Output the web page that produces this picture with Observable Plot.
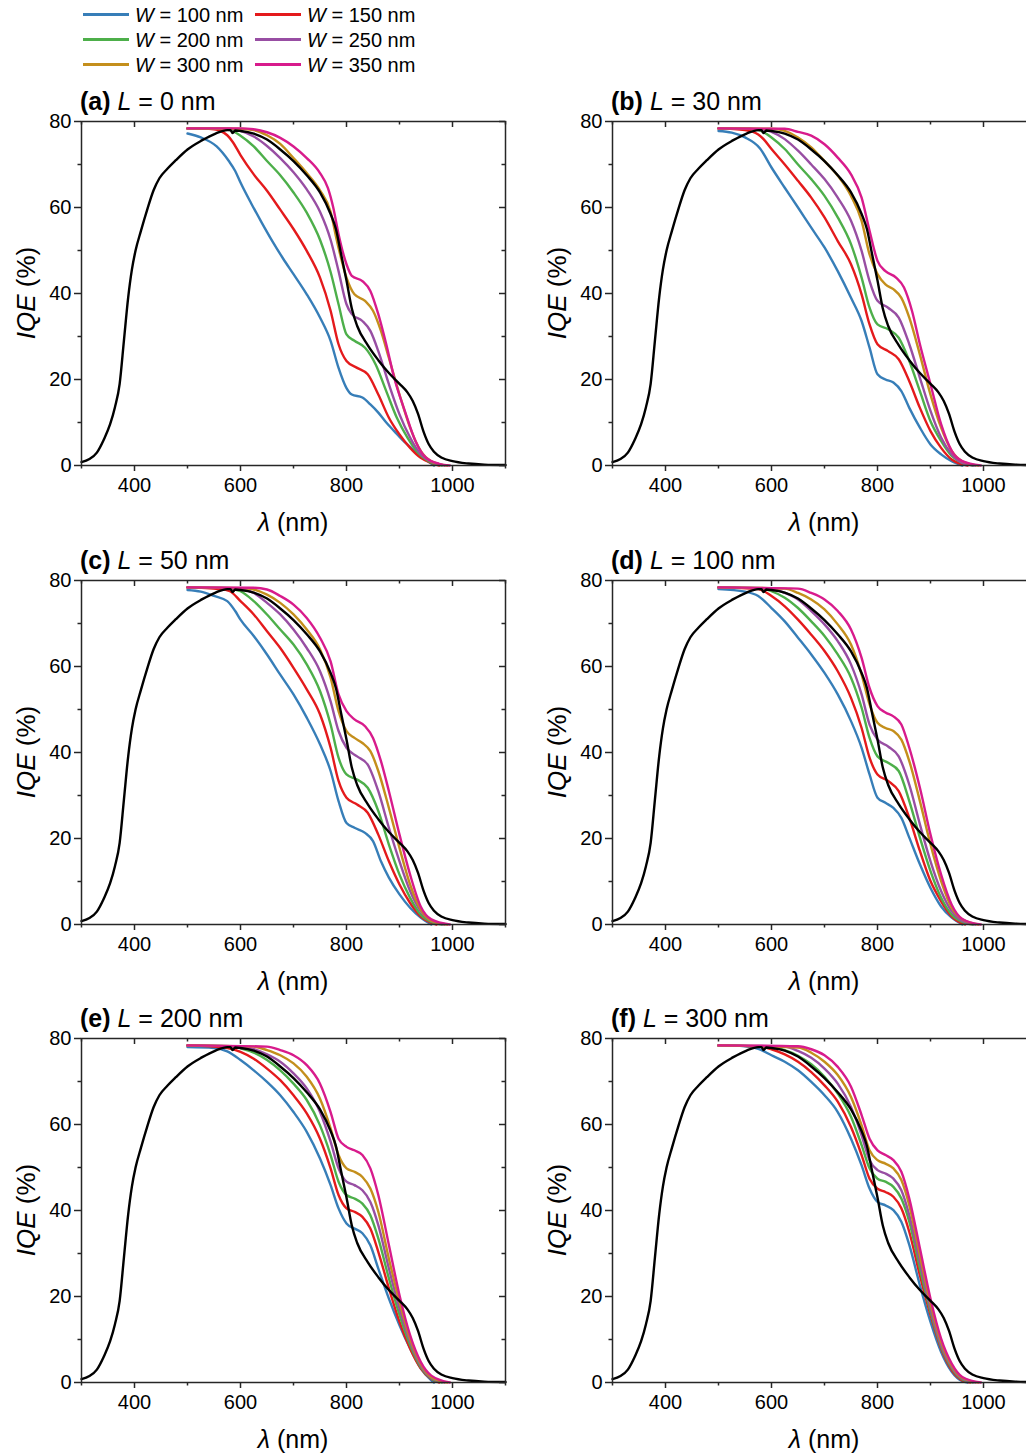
<!DOCTYPE html>
<html><head><meta charset="utf-8">
<script src="https://cdn.jsdelivr.net/npm/d3@7"></script>
<script src="https://cdn.jsdelivr.net/npm/@observablehq/plot@0.6"></script>
<style>
html,body{margin:0;padding:0;background:#fff;}
body{width:1026px;height:1455px;position:relative;overflow:hidden;font-family:Arial,"Liberation Sans",Helvetica,sans-serif;color:#000;}
.panel{position:absolute;width:513px;}
.lg-line{position:absolute;height:2.5px;}
.lg-text{position:absolute;font-size:20px;line-height:24px;height:24px;white-space:nowrap;}
</style></head>
<body>
<script>
// ---------- tick values ----------
const xMajorTicks = [400, 600, 800, 1000];
const xMinorTicks = [300, 500, 700, 900, 1100];
const yMajorTicks = [0, 20, 40, 60, 80];
const yMinorTicks = [10, 30, 50, 70];

// ---------- series ----------
const seriesWidths = [100, 150, 200, 250, 300, 350];
const seriesColors = ["#377eb8", "#e41a1c", "#4daf4a", "#984ea3", "#c48f1c", "#d81b8c"];
const panelLetters = ["(a)", "(b)", "(c)", "(d)", "(e)", "(f)"];
const panelL = [0, 30, 50, 100, 200, 300];

// reference (black) curve, same in every panel
const refCurve = [[300,0.8],[315,1.5],[329,3],[342,6],[354,9.6],[363,13.5],[372,19],[380,29],[388,39],[395,45.5],[402,50],[412,54.5],[424,59.5],[436,64],[447,66.8],[462,69],[478,71],[500,73.5],[527,75.6],[553,77.2],[575,78],[581,78],[585,77.3],[590,77.9],[600,77.8],[625,77.2],[650,75.8],[675,73.5],[700,70.8],[725,67.5],[750,63.5],[770,58.5],[780,55],[790,49],[800,43],[810,36.5],[820,32.5],[840,28],[860,24.5],[880,21.5],[900,19],[915,17],[925,15],[935,12],[945,8],[955,5],[965,3.2],[980,1.8],[1000,1],[1030,0.45],[1060,0.2],[1100,0.1]];

// (a) L = 0 nm
const a100 = [[500,77.2],[525,76.3],[555,74.2],[578,70.8],[590,68.5],[600,65.8],[620,61],[640,56.5],[660,52.2],[680,48.2],[700,44.5],[725,39.8],[750,34.4],[770,29],[785,22.7],[800,18],[810,16.5],[830,15.8],[845,14.2],[860,12.3],[875,10],[890,8],[905,6],[923,4],[942,2],[965,0]];
const a150 = [[500,78.4],[550,78.2],[575,76.8],[585,75.3],[600,72.2],[625,67.7],[650,63.9],[675,59.5],[700,55],[725,49.9],[750,43.7],[770,36],[785,28.2],[800,24.3],[820,22.7],[840,21.2],[860,16.5],[880,11.1],[900,7.2],[920,4.1],[940,1.8],[960,0.6],[975,0]];
const a200 = [[500,78.4],[560,78.3],[580,78],[600,76.7],[625,74.2],[650,70.8],[675,67.5],[700,63.5],[725,58.8],[750,52.5],[770,45],[785,37.5],[800,30.5],[815,29],[835,27.4],[855,23.5],[875,17.3],[895,11.1],[915,6.5],[935,3],[955,1],[980,0]];
const a250 = [[500,78.4],[580,78.3],[600,77.8],[625,76.5],[650,74.3],[675,71.5],[700,68.2],[725,64.2],[750,59],[770,52.5],[785,45.2],[800,37.5],[810,35.2],[830,33.6],[845,31.3],[860,26.6],[880,18.9],[900,11.9],[920,6.5],[940,2.6],[960,0.9],[985,0]];
const a300 = [[500,78.4],[600,78.3],[625,78],[650,76.8],[675,74.8],[700,71.5],[725,68],[750,64],[770,59],[782,52.2],[800,43.7],[815,39.8],[835,38.3],[850,36],[865,31.3],[880,25],[900,16.5],[920,8.8],[940,3.4],[960,1],[990,0]];
const a350 = [[500,78.4],[600,78.4],[625,78.2],[650,77.5],[675,76.2],[700,74.2],[725,71.5],[750,68],[765,64.5],[775,60],[785,53.8],[800,46.8],[810,44.1],[830,42.9],[845,40.6],[860,35.2],[875,28.2],[890,20.4],[910,12.7],[930,5.7],[950,1.8],[975,0.4],[995,0]];

// (b) L = 30 nm
const b100 = [[500,77.8],[525,77.4],[550,76.3],[578,73.8],[600,69.3],[625,64.6],[650,60],[675,55.3],[700,50.7],[725,45.2],[750,39],[770,33.6],[785,27.4],[800,21.2],[815,20],[830,19.3],[845,17.3],[860,13.4],[880,8.8],[900,4.9],[920,2.6],[940,1],[960,0]];
const b150 = [[500,78.4],[550,78],[575,77],[585,75.9],[600,73.6],[625,70],[650,66.2],[675,62.3],[700,57.7],[725,52.2],[750,46.8],[770,39.8],[785,32.8],[800,28.2],[820,26.6],[840,24.7],[860,19.6],[880,13.4],[900,8],[920,4.1],[940,1.4],[970,0]];
const b200 = [[500,78.4],[560,78.3],[580,77.8],[600,76.3],[625,73.6],[650,70],[675,66.6],[700,62.7],[725,57.7],[750,51.5],[770,43.7],[785,36.7],[800,32.8],[820,31.7],[840,29.7],[860,24.3],[880,17.3],[900,10.3],[920,5.7],[940,2.2],[960,0.6],[980,0]];
const b250 = [[500,78.4],[580,78.2],[600,77.6],[625,75.9],[650,73.2],[675,70],[700,66.6],[725,62.3],[750,56.9],[770,49.9],[785,42.9],[800,38.3],[820,36.7],[840,34.4],[860,28.2],[880,20.4],[900,12.7],[920,6.5],[940,2.6],[960,0.6],[985,0]];
const b300 = [[500,78.4],[600,78.3],[625,77.8],[650,76.3],[675,74],[700,70.8],[725,67.4],[750,62.7],[770,56.9],[785,49.1],[800,44.5],[815,42.1],[830,41],[845,39],[860,34.4],[880,25.8],[900,16.5],[920,8.8],[940,3.4],[960,1],[990,0]];
const b350 = [[500,78.4],[625,78.3],[650,77.6],[675,76.7],[700,74.7],[725,71.6],[750,67.7],[770,62.3],[785,54.6],[800,47.6],[815,45.2],[835,43.7],[850,41.4],[865,36],[880,28.2],[900,18.9],[920,9.6],[940,3.4],[960,1],[995,0]];

// (c) L = 50 nm
const c100 = [[500,77.8],[525,77.4],[550,76.4],[575,75.2],[590,72.9],[600,70.9],[625,67.1],[650,62.8],[675,58.1],[700,53.5],[725,48.1],[750,41.9],[770,35.7],[785,28.7],[800,23.6],[815,22.5],[835,21.3],[850,19.4],[865,14.7],[880,10.9],[900,7],[920,3.9],[940,1.6],[960,0]];
const c150 = [[500,78.4],[560,78],[580,77.5],[600,75.2],[625,72.1],[650,68.2],[675,64.3],[700,59.7],[725,54.7],[750,48.9],[770,41.1],[785,33.4],[800,29.5],[820,27.9],[840,26],[860,20.9],[880,14.7],[900,9.3],[920,5],[940,1.9],[970,0]];
const c200 = [[500,78.4],[575,78.2],[600,77.5],[625,75.2],[650,72.1],[675,68.6],[700,65.1],[725,60.5],[750,54.3],[770,46.5],[785,38.8],[800,34.9],[820,33.7],[840,31.8],[860,26.4],[880,18.6],[900,11.6],[920,6.2],[940,2.3],[960,0.6],[980,0]];
const c250 = [[500,78.4],[590,78.2],[625,77.1],[650,74.8],[675,72.1],[700,68.6],[725,64.3],[750,58.9],[770,51.9],[785,45],[800,41.1],[820,39.1],[840,37.2],[860,31],[880,22.5],[900,14.7],[920,7.8],[940,3.1],[960,0.8],[985,0]];
const c300 = [[500,78.4],[610,78.2],[650,76.7],[675,74.8],[700,72.1],[725,68.6],[750,64],[770,57.4],[785,49.6],[800,45],[815,43.4],[830,42.2],[845,40.3],[860,35.7],[880,27.1],[900,17.8],[920,9.3],[940,3.5],[960,0.9],[990,0]];
const c350 = [[500,78.4],[625,78.3],[650,77.9],[675,76.4],[700,74.4],[725,71.3],[750,66.7],[770,61.2],[785,53.5],[800,49.6],[815,47.7],[835,46.1],[850,43.4],[865,38],[880,31],[900,20.9],[920,11.6],[940,4.2],[960,1.2],[995,0]];

// (d) L = 100 nm
const d100 = [[500,78],[550,77.4],[575,76.4],[600,73.6],[625,70.5],[650,66.7],[675,62.8],[700,58.5],[725,53.5],[750,47.3],[770,41.1],[785,34.9],[800,29.5],[815,28.3],[830,27.1],[845,24.8],[860,20.2],[880,14],[900,8.5],[920,4.2],[940,1.6],[960,0]];
const d150 = [[500,78.4],[575,78],[600,76.4],[625,74],[650,70.9],[675,67.4],[700,63.6],[725,58.9],[750,52.7],[770,45.7],[785,38.8],[800,34.9],[820,33.4],[840,31],[860,24.8],[880,17.1],[900,10.1],[920,5.4],[940,1.9],[965,0]];
const d200 = [[500,78.4],[580,78.2],[600,77.5],[625,76],[650,73.6],[675,70.5],[700,67.1],[725,62.8],[750,57.4],[770,50.4],[785,43.4],[800,39.1],[820,37.6],[840,35.7],[860,28.7],[880,20.2],[900,12.4],[920,6.2],[940,2.3],[960,0.6],[980,0]];
const d250 = [[500,78.4],[600,78.1],[625,77.1],[650,75.6],[675,72.9],[700,69.8],[725,65.9],[750,60.5],[770,53.5],[785,46.5],[800,43],[820,41.4],[840,39.1],[860,32.5],[880,23.3],[900,14.7],[920,7.8],[940,3.1],[960,0.8],[985,0]];
const d300 = [[500,78.4],[625,78.1],[650,77.1],[675,75.6],[700,73.3],[725,69.8],[750,65.1],[770,58.1],[785,51.2],[800,46.9],[815,45.7],[830,45],[845,43],[860,38],[880,28.7],[900,18.6],[920,10.1],[940,3.9],[960,1.2],[990,0]];
const d350 = [[500,78.4],[650,78.1],[675,77.1],[700,75.6],[725,72.9],[750,68.6],[770,62],[785,55],[800,50.8],[815,49.3],[830,48.4],[845,46.5],[860,41.1],[880,31.8],[900,20.9],[920,11.6],[940,4.6],[960,1.3],[995,0]];

// (e) L = 200 nm
const e100 = [[500,78],[550,77.8],[575,77],[600,75],[625,72.6],[650,69.9],[675,66.8],[700,62.9],[725,58.3],[750,52.1],[770,45.9],[785,40.5],[800,37],[815,35.8],[830,34.7],[845,31.9],[860,26.5],[880,19.5],[900,13.3],[920,7.9],[940,3.3],[960,0.5],[965,0]];
const e150 = [[500,78.4],[575,77.8],[600,76.9],[625,75.3],[650,73],[675,70.3],[700,66.8],[725,62.6],[750,56.7],[770,49.8],[785,43.6],[800,40.5],[815,39.7],[830,38.5],[845,35.8],[860,30.4],[880,21.9],[900,14.1],[920,7.9],[940,3.3],[960,0.8],[975,0]];
const e200 = [[500,78.4],[580,78.2],[600,77.7],[625,76.7],[650,75],[675,72.6],[700,69.5],[725,65.7],[750,59.8],[770,52.9],[785,46.7],[800,43.6],[815,42.8],[830,41.6],[845,38.9],[860,33.5],[880,24.2],[900,15.7],[920,8.7],[940,3.6],[960,0.9],[980,0]];
const e250 = [[500,78.4],[600,78.1],[625,77.5],[650,76.3],[675,74.6],[700,71.9],[725,68.4],[750,62.9],[770,56],[785,49.8],[800,46.7],[815,45.9],[830,44.7],[845,42],[860,36.6],[880,26.5],[900,17.2],[920,9.5],[940,4],[960,1.1],[985,0]];
const e300 = [[500,78.4],[625,78.1],[650,77.3],[675,76.1],[700,74.2],[725,71.1],[750,66],[770,59.1],[785,52.9],[800,49.8],[815,49],[830,47.8],[845,45.1],[860,39.7],[880,28.8],[900,18.8],[920,10.2],[940,4.4],[960,1.3],[990,0]];
const e350 = [[500,78.4],[650,78.1],[675,77.3],[700,76.1],[725,73.8],[750,69.5],[770,62.9],[785,56.7],[800,54.8],[815,54],[830,52.9],[845,49.8],[860,43.6],[880,32],[900,20.3],[920,11],[940,4.8],[960,1.6],[995,0]];

// (f) L = 300 nm
const f100 = [[500,78.4],[550,78.2],[575,77.6],[600,76.1],[625,74.6],[650,72.6],[675,69.9],[700,66.8],[725,62.9],[750,56.7],[770,50.5],[785,45.1],[800,42],[815,41.2],[830,40.1],[845,37.4],[860,32],[880,22.6],[900,14.1],[920,7.1],[940,2.5],[960,0.3],[970,0]];
const f150 = [[500,78.4],[580,78.1],[600,77.5],[625,76.3],[650,74.6],[675,72.2],[700,69.1],[725,65.3],[750,59.4],[770,52.9],[785,47.4],[800,45.1],[815,44.3],[830,43.2],[845,40.5],[860,35],[880,24.9],[900,15.7],[920,7.9],[940,2.9],[960,0.5],[975,0]];
const f200 = [[500,78.4],[600,78.1],[625,77.3],[650,76],[675,74],[700,71.1],[725,67.2],[750,61.8],[770,55.2],[785,49.8],[800,47.4],[815,46.7],[830,45.5],[845,42.8],[860,37.4],[880,26.5],[900,16.4],[920,8.3],[940,3.3],[960,0.7],[980,0]];
const f250 = [[500,78.4],[625,78.1],[650,77.1],[675,75.5],[700,73],[725,69.5],[750,64.1],[770,57.5],[785,51.7],[800,49.4],[815,48.6],[830,47.4],[845,44.7],[860,38.9],[880,28],[900,17.2],[920,8.7],[940,3.6],[960,0.9],[985,0]];
const f300 = [[500,78.4],[650,77.9],[675,76.7],[700,74.6],[725,71.5],[750,66.4],[770,59.8],[785,54],[800,51.7],[815,50.9],[830,49.8],[845,47.1],[860,41.2],[880,29.6],[900,18.4],[920,9.5],[940,4],[960,1.1],[990,0]];
const f350 = [[500,78.4],[650,78.2],[675,77.5],[700,76.1],[725,73.4],[750,68.8],[770,62.2],[785,56.7],[800,54],[815,52.9],[830,51.7],[845,49],[860,42.8],[880,31.2],[900,19.5],[920,10.2],[940,4.4],[960,1.3],[995,0]];

const panelCurves = [
  [a100, a150, a200, a250, a300, a350],
  [b100, b150, b200, b250, b300, b350],
  [c100, c150, c200, c250, c300, c350],
  [d100, d150, d200, d250, d300, d350],
  [e100, e150, e200, e250, e300, e350],
  [f100, f150, f200, f250, f300, f350]
];

// ---------- layout ----------
const FONT = 'Arial, "Liberation Sans", Helvetica, sans-serif';
const AXIS = "#262626";
const seriesNames = seriesWidths.map(w => `W = ${w} nm`);
const W = 513, H = 464, mL = 81, mR = 8, mT = 40, mB = 80;
const pw = W - mL - mR, ph = H - mT - mB;
const colLeft = [0, 531];
const rowTop = [81, 539.5, 998];

// ---------- legend ----------
const legendCols = [83, 255];
const legendRows = [14.5, 39.5, 64.5];
seriesNames.forEach((name, i) => {
  const cx = legendCols[i % 2], cy = legendRows[Math.floor(i / 2)];
  const ln = document.createElement("div");
  ln.className = "lg-line";
  ln.style.left = cx + "px"; ln.style.width = "46px";
  ln.style.top = (cy - 1.25) + "px"; ln.style.background = seriesColors[i];
  document.body.appendChild(ln);
  const tx = document.createElement("div");
  tx.className = "lg-text";
  tx.style.left = (cx + 52) + "px"; tx.style.top = (cy - 12) + "px";
  tx.innerHTML = `<i>W</i> = ${seriesWidths[i]} nm`;
  document.body.appendChild(tx);
});

// ---------- panels ----------
panelCurves.forEach((curves, p) => {
  const rows = [];
  curves.forEach((c, i) => c.forEach(([wl, v]) => rows.push({wl, v, s: seriesNames[i]})));
  const ref = refCurve.map(([wl, v]) => ({wl, v}));
  const ax = {stroke: AXIS, strokeWidth: 1.5};
  const svg = Plot.plot({
    width: W, height: H, marginLeft: mL, marginRight: mR, marginTop: mT, marginBottom: mB,
    style: {fontFamily: FONT, fontSize: "20px", color: "#000", background: "transparent", overflow: "visible"},
    x: {domain: [300, 1100]},
    y: {domain: [0, 80]},
    color: {domain: seriesNames, range: seriesColors},
    marks: [
      Plot.line(rows, {x: "wl", y: "v", z: "s", stroke: "s", strokeWidth: 2.4, curve: "monotone-x"}),
      Plot.line(ref, {x: "wl", y: "v", stroke: "#000", strokeWidth: 2.4, curve: "monotone-x"}),
      Plot.frame(ax),
      Plot.axisX(xMajorTicks, {anchor: "bottom", tickSize: 6, tickPadding: 6, label: null, tickFormat: d => `${d}`, fill: "#000", fontSize: 20, ...ax}),
      Plot.axisX(xMinorTicks, {anchor: "bottom", tickSize: 3.5, label: null, fill: "none", ...ax}),
      Plot.axisY(yMajorTicks, {anchor: "left", tickSize: 7, tickPadding: 3, label: null, tickFormat: d => `${d}`, fill: "#000", fontSize: 20, ...ax}),
      Plot.axisY(yMinorTicks, {anchor: "left", tickSize: 3.5, label: null, fill: "none", ...ax}),
      Plot.tickX(xMajorTicks, {x: d => d, insetBottom: ph - 6, ...ax}),
      Plot.tickX(xMinorTicks, {x: d => d, insetBottom: ph - 3.5, ...ax}),
      Plot.tickY(yMajorTicks, {y: d => d, insetLeft: pw - 6, ...ax}),
      Plot.tickY(yMinorTicks, {y: d => d, insetLeft: pw - 3.5, ...ax})
    ]
  });
  const s = d3.select(svg);
  // panel title
  const t = s.append("text").attr("x", mL - 1).attr("y", mT - 11).attr("text-anchor", "start")
    .attr("font-size", 25).attr("font-family", FONT).attr("fill", "#000");
  t.append("tspan").attr("font-weight", "bold").text(panelLetters[p]);
  t.append("tspan").text(" ");
  t.append("tspan").attr("font-style", "italic").text("L");
  t.append("tspan").text(` = ${panelL[p]} nm`);
  // x label
  const xl = s.append("text").attr("x", mL + pw / 2).attr("y", mT + ph + 66)
    .attr("text-anchor", "middle").attr("font-size", 25).attr("font-family", FONT).attr("fill", "#000");
  xl.append("tspan").attr("font-style", "italic").text("λ");
  xl.append("tspan").text(" (nm)");
  // y label
  const yl = s.append("text").attr("transform", `translate(35,${mT + ph / 2}) rotate(-90)`)
    .attr("text-anchor", "middle").attr("font-size", 26).attr("font-family", FONT).attr("fill", "#000");
  yl.append("tspan").attr("font-style", "italic").text("IQE");
  yl.append("tspan").text(" (%)");

  const wrap = document.createElement("div");
  wrap.className = "panel";
  wrap.style.left = colLeft[p % 2] + "px";
  wrap.style.top = rowTop[Math.floor(p / 2)] + "px";
  wrap.appendChild(svg);
  document.body.appendChild(wrap);
});
</script>
</body></html>
